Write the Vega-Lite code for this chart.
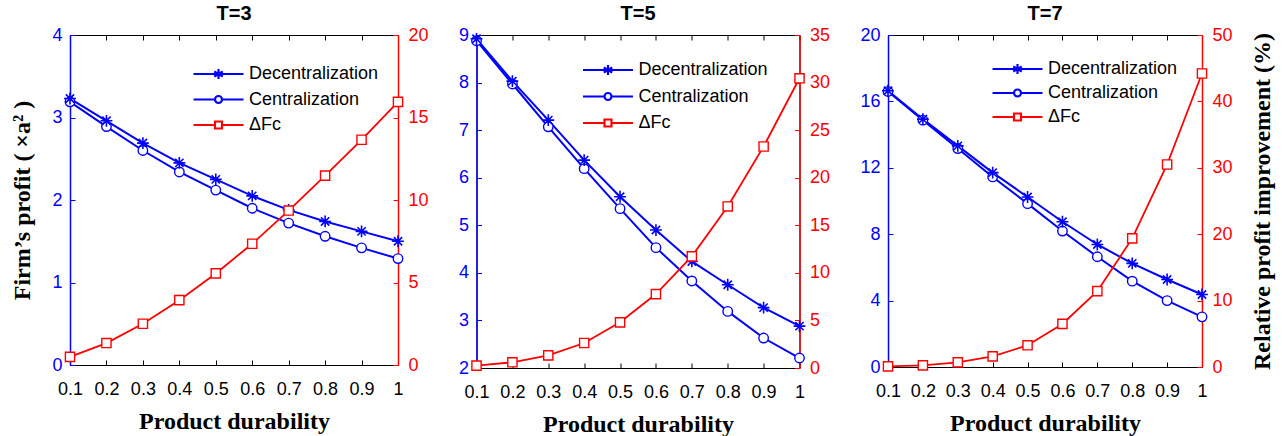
{
  "$schema": "https://vega.github.io/schema/vega-lite/v6.json",
  "padding": {"left": 10, "top": 3, "right": 2, "bottom": 0},
  "spacing": 28.5,
  "datasets": {
    "t3": [
      {"d": 0.1, "series": "Decentralization", "profit": 3.23}, {"d": 0.2, "series": "Decentralization", "profit": 2.96}, {"d": 0.3, "series": "Decentralization", "profit": 2.69}, {"d": 0.4, "series": "Decentralization", "profit": 2.45}, {"d": 0.5, "series": "Decentralization", "profit": 2.25}, {"d": 0.6, "series": "Decentralization", "profit": 2.05}, {"d": 0.7, "series": "Decentralization", "profit": 1.88}, {"d": 0.8, "series": "Decentralization", "profit": 1.74}, {"d": 0.9, "series": "Decentralization", "profit": 1.62}, {"d": 1.0, "series": "Decentralization", "profit": 1.50},
      {"d": 0.1, "series": "Centralization", "profit": 3.19}, {"d": 0.2, "series": "Centralization", "profit": 2.89}, {"d": 0.3, "series": "Centralization", "profit": 2.60}, {"d": 0.4, "series": "Centralization", "profit": 2.34}, {"d": 0.5, "series": "Centralization", "profit": 2.12}, {"d": 0.6, "series": "Centralization", "profit": 1.90}, {"d": 0.7, "series": "Centralization", "profit": 1.72}, {"d": 0.8, "series": "Centralization", "profit": 1.56}, {"d": 0.9, "series": "Centralization", "profit": 1.42}, {"d": 1.0, "series": "Centralization", "profit": 1.29},
      {"d": 0.1, "series": "ΔFc", "profit": 0.49}, {"d": 0.2, "series": "ΔFc", "profit": 1.33}, {"d": 0.3, "series": "ΔFc", "profit": 2.50}, {"d": 0.4, "series": "ΔFc", "profit": 3.93}, {"d": 0.5, "series": "ΔFc", "profit": 5.55}, {"d": 0.6, "series": "ΔFc", "profit": 7.35}, {"d": 0.7, "series": "ΔFc", "profit": 9.36}, {"d": 0.8, "series": "ΔFc", "profit": 11.48}, {"d": 0.9, "series": "ΔFc", "profit": 13.65}, {"d": 1.0, "series": "ΔFc", "profit": 15.95}
    ],
    "t5": [
      {"d": 0.1, "series": "Decentralization", "profit": 8.92}, {"d": 0.2, "series": "Decentralization", "profit": 8.03}, {"d": 0.3, "series": "Decentralization", "profit": 7.21}, {"d": 0.4, "series": "Decentralization", "profit": 6.37}, {"d": 0.5, "series": "Decentralization", "profit": 5.60}, {"d": 0.6, "series": "Decentralization", "profit": 4.90}, {"d": 0.7, "series": "Decentralization", "profit": 4.24}, {"d": 0.8, "series": "Decentralization", "profit": 3.75}, {"d": 0.9, "series": "Decentralization", "profit": 3.27}, {"d": 1.0, "series": "Decentralization", "profit": 2.88},
      {"d": 0.1, "series": "Centralization", "profit": 8.88}, {"d": 0.2, "series": "Centralization", "profit": 7.97}, {"d": 0.3, "series": "Centralization", "profit": 7.07}, {"d": 0.4, "series": "Centralization", "profit": 6.19}, {"d": 0.5, "series": "Centralization", "profit": 5.35}, {"d": 0.6, "series": "Centralization", "profit": 4.53}, {"d": 0.7, "series": "Centralization", "profit": 3.83}, {"d": 0.8, "series": "Centralization", "profit": 3.19}, {"d": 0.9, "series": "Centralization", "profit": 2.63}, {"d": 1.0, "series": "Centralization", "profit": 2.21},
      {"d": 0.1, "series": "ΔFc", "profit": 0.25}, {"d": 0.2, "series": "ΔFc", "profit": 0.60}, {"d": 0.3, "series": "ΔFc", "profit": 1.33}, {"d": 0.4, "series": "ΔFc", "profit": 2.63}, {"d": 0.5, "series": "ΔFc", "profit": 4.80}, {"d": 0.6, "series": "ΔFc", "profit": 7.77}, {"d": 0.7, "series": "ΔFc", "profit": 11.73}, {"d": 0.8, "series": "ΔFc", "profit": 16.98}, {"d": 0.9, "series": "ΔFc", "profit": 23.28}, {"d": 1.0, "series": "ΔFc", "profit": 30.45}
    ],
    "t7": [
      {"d": 0.1, "series": "Decentralization", "profit": 16.64}, {"d": 0.2, "series": "Decentralization", "profit": 14.93}, {"d": 0.3, "series": "Decentralization", "profit": 13.32}, {"d": 0.4, "series": "Decentralization", "profit": 11.71}, {"d": 0.5, "series": "Decentralization", "profit": 10.24}, {"d": 0.6, "series": "Decentralization", "profit": 8.75}, {"d": 0.7, "series": "Decentralization", "profit": 7.38}, {"d": 0.8, "series": "Decentralization", "profit": 6.24}, {"d": 0.9, "series": "Decentralization", "profit": 5.27}, {"d": 1.0, "series": "Decentralization", "profit": 4.37},
      {"d": 0.1, "series": "Centralization", "profit": 16.60}, {"d": 0.2, "series": "Centralization", "profit": 14.87}, {"d": 0.3, "series": "Centralization", "profit": 13.16}, {"d": 0.4, "series": "Centralization", "profit": 11.45}, {"d": 0.5, "series": "Centralization", "profit": 9.84}, {"d": 0.6, "series": "Centralization", "profit": 8.19}, {"d": 0.7, "series": "Centralization", "profit": 6.64}, {"d": 0.8, "series": "Centralization", "profit": 5.17}, {"d": 0.9, "series": "Centralization", "profit": 4.00}, {"d": 1.0, "series": "Centralization", "profit": 3.02},
      {"d": 0.1, "series": "ΔFc", "profit": 0.10}, {"d": 0.2, "series": "ΔFc", "profit": 0.25}, {"d": 0.3, "series": "ΔFc", "profit": 0.70}, {"d": 0.4, "series": "ΔFc", "profit": 1.60}, {"d": 0.5, "series": "ΔFc", "profit": 3.27}, {"d": 0.6, "series": "ΔFc", "profit": 6.49}, {"d": 0.7, "series": "ΔFc", "profit": 11.42}, {"d": 0.8, "series": "ΔFc", "profit": 19.37}, {"d": 0.9, "series": "ΔFc", "profit": 30.50}, {"d": 1.0, "series": "ΔFc", "profit": 44.20}
    ]
  },
  "hconcat": [
    {
      "width": 328, "height": 330,
      "title": {"text": "T=3"},
      "data": {"name": "t3"},
      "layer": [
        {"transform": [{"filter": "datum.series !== 'ΔFc'"}],
         "mark": {"type": "line", "strokeWidth": 2},
         "encoding": {
           "x": {"field": "d", "type": "quantitative", "scale": {"domain": [0.1, 1], "nice": false, "zero": false}, "axis": {"orient": "bottom", "values": [0.1, 0.2, 0.3, 0.4, 0.5, 0.6, 0.7, 0.8, 0.9, 1], "format": ".1~f", "title": "Product durability", "labelColor": "black", "domainColor": "black", "tickColor": "black", "labelPadding": 20, "titlePadding": 11, "labelFlush": false}},
           "y": {"field": "profit", "type": "quantitative", "scale": {"domain": [0, 4], "nice": false}, "axis": {"orient": "left", "values": [0, 1, 2, 3, 4], "title": "Firm’s profit ( ×a² )", "domainColor": "#0000ff", "domainWidth": 1.5, "tickColor": "#0000ff", "labelColor": "#0000ff", "titlePadding": 17}},
           "color": {"field": "series", "type": "nominal", "scale": {"domain": ["Decentralization", "Centralization", "ΔFc"], "range": ["#0000ff", "#0000ff", "#ff0000"]}}
         }},
        {"transform": [{"filter": "datum.series === 'Centralization'"}],
         "mark": {"type": "point", "shape": "circle", "size": 90, "filled": true, "fill": "white", "stroke": "#0000ff", "strokeWidth": 1.4, "opacity": 1},
         "encoding": {"x": {"field": "d", "type": "quantitative", "axis": null}, "y": {"field": "profit", "type": "quantitative", "scale": {"domain": [0, 4], "nice": false}, "axis": null}}},
        {"transform": [{"filter": "datum.series === 'Decentralization'"}],
         "mark": {"type": "point", "shape": "M0,-1V1M-1,0H1M-0.7,-0.7L0.7,0.7M-0.7,0.7L0.7,-0.7", "size": 140, "stroke": "#0000ff", "strokeWidth": 1.6, "opacity": 1},
         "encoding": {"x": {"field": "d", "type": "quantitative", "axis": null}, "y": {"field": "profit", "type": "quantitative", "scale": {"domain": [0, 4], "nice": false}, "axis": null}}},
        {"mark": {"type": "point", "opacity": 0, "clip": true},
         "encoding": {
           "x": {"field": "d", "type": "quantitative", "axis": null},
           "y": {"field": "profit", "type": "quantitative", "scale": {"domain": [0, 4], "nice": false}, "axis": null},
           "color": {"field": "series", "type": "nominal", "scale": {"domain": ["Decentralization", "Centralization", "ΔFc"], "range": ["#0000ff", "#0000ff", "#ff0000"]}, "legend": {"orient": "none", "legendX": 122, "legendY": 26.5, "title": null, "labelFont": "Liberation Sans", "labelFontSize": 18, "labelColor": "black", "symbolSize": 2500, "symbolStrokeWidth": 2.2, "symbolOpacity": 1, "padding": 0, "labelOffset": 4, "clipHeight": 25, "rowPadding": 0.5}},
           "shape": {"field": "series", "type": "nominal", "scale": {"domain": ["Decentralization", "Centralization", "ΔFc"], "range": ["M-1,0H1M0,-0.2V0.2M-0.17,-0.1L0.17,0.1M-0.17,0.1L0.17,-0.1", "M-1,0H-0.14M0.14,0H1M-0.14,0A0.14,0.14 0 1,1 0.14,0A0.14,0.14 0 1,1 -0.14,0Z", "M-1,0H-0.14M0.14,0H1M-0.14,-0.14H0.14V0.14H-0.14Z"]}, "legend": {"orient": "none", "legendX": 122, "legendY": 26.5, "title": null, "labelFont": "Liberation Sans", "labelFontSize": 18, "labelColor": "black", "symbolSize": 2500, "symbolStrokeWidth": 2.2, "symbolOpacity": 1, "padding": 0, "labelOffset": 4, "clipHeight": 25, "rowPadding": 0.5}}
         }},
        {"transform": [{"filter": "datum.series === 'ΔFc'"}],
         "mark": {"type": "line", "color": "#ff0000", "strokeWidth": 1.8},
         "encoding": {
           "x": {"field": "d", "type": "quantitative", "axis": {"orient": "top", "values": [0.1, 0.2, 0.3, 0.4, 0.5, 0.6, 0.7, 0.8, 0.9, 1], "labels": false, "domain": false, "title": null, "tickColor": "black"}},
           "y": {"field": "profit", "type": "quantitative", "scale": {"domain": [0, 20], "nice": false}, "axis": {"orient": "right", "values": [0, 5, 10, 15, 20], "title": null, "domainColor": "#ff0000", "domainWidth": 1.5, "tickColor": "#ff0000", "labelColor": "#ff0000", "labelPadding": 15}}
         }},
        {"transform": [{"filter": "datum.series === 'ΔFc'"}],
         "mark": {"type": "point", "shape": "square", "size": 85, "filled": true, "fill": "white", "stroke": "#ff0000", "strokeWidth": 1.4, "opacity": 1},
         "encoding": {"x": {"field": "d", "type": "quantitative", "axis": null}, "y": {"field": "profit", "type": "quantitative", "scale": {"domain": [0, 20], "nice": false}, "axis": null}}}
      ],
      "resolve": {"scale": {"y": "independent"}, "axis": {"x": "independent"}}
    },
    {
      "width": 323, "height": 333,
      "title": {"text": "T=5"},
      "data": {"name": "t5"},
      "layer": [
        {"transform": [{"filter": "datum.series !== 'ΔFc'"}],
         "mark": {"type": "line", "strokeWidth": 2},
         "encoding": {
           "x": {"field": "d", "type": "quantitative", "scale": {"domain": [0.1, 1], "nice": false, "zero": false}, "axis": {"orient": "bottom", "values": [0.1, 0.2, 0.3, 0.4, 0.5, 0.6, 0.7, 0.8, 0.9, 1], "format": ".1~f", "title": "Product durability", "labelColor": "black", "domainColor": "black", "tickColor": "black", "labelPadding": 20, "titlePadding": 11, "labelFlush": false}},
           "y": {"field": "profit", "type": "quantitative", "scale": {"domain": [2, 9], "nice": false, "zero": false}, "axis": {"orient": "left", "values": [2, 3, 4, 5, 6, 7, 8, 9], "title": null, "domainColor": "#0000ff", "domainWidth": 1.5, "tickColor": "#0000ff", "labelColor": "#0000ff"}},
           "color": {"field": "series", "type": "nominal", "scale": {"domain": ["Decentralization", "Centralization", "ΔFc"], "range": ["#0000ff", "#0000ff", "#ff0000"]}}
         }},
        {"transform": [{"filter": "datum.series === 'Centralization'"}],
         "mark": {"type": "point", "shape": "circle", "size": 90, "filled": true, "fill": "white", "stroke": "#0000ff", "strokeWidth": 1.4, "opacity": 1},
         "encoding": {"x": {"field": "d", "type": "quantitative", "axis": null}, "y": {"field": "profit", "type": "quantitative", "scale": {"domain": [2, 9], "nice": false, "zero": false}, "axis": null}}},
        {"transform": [{"filter": "datum.series === 'Decentralization'"}],
         "mark": {"type": "point", "shape": "M0,-1V1M-1,0H1M-0.7,-0.7L0.7,0.7M-0.7,0.7L0.7,-0.7", "size": 140, "stroke": "#0000ff", "strokeWidth": 1.6, "opacity": 1},
         "encoding": {"x": {"field": "d", "type": "quantitative", "axis": null}, "y": {"field": "profit", "type": "quantitative", "scale": {"domain": [2, 9], "nice": false, "zero": false}, "axis": null}}},
        {"mark": {"type": "point", "opacity": 0, "clip": true},
         "encoding": {
           "x": {"field": "d", "type": "quantitative", "axis": null},
           "y": {"field": "profit", "type": "quantitative", "scale": {"domain": [2, 9], "nice": false, "zero": false}, "axis": null},
           "color": {"field": "series", "type": "nominal", "scale": {"domain": ["Decentralization", "Centralization", "ΔFc"], "range": ["#0000ff", "#0000ff", "#ff0000"]}, "legend": {"orient": "none", "legendX": 105, "legendY": 22.5, "title": null, "labelFont": "Liberation Sans", "labelFontSize": 18, "labelColor": "black", "symbolSize": 2500, "symbolStrokeWidth": 2.2, "symbolOpacity": 1, "padding": 0, "labelOffset": 4, "clipHeight": 25, "rowPadding": 1.5}},
           "shape": {"field": "series", "type": "nominal", "scale": {"domain": ["Decentralization", "Centralization", "ΔFc"], "range": ["M-1,0H1M0,-0.2V0.2M-0.17,-0.1L0.17,0.1M-0.17,0.1L0.17,-0.1", "M-1,0H-0.14M0.14,0H1M-0.14,0A0.14,0.14 0 1,1 0.14,0A0.14,0.14 0 1,1 -0.14,0Z", "M-1,0H-0.14M0.14,0H1M-0.14,-0.14H0.14V0.14H-0.14Z"]}, "legend": {"orient": "none", "legendX": 105, "legendY": 22.5, "title": null, "labelFont": "Liberation Sans", "labelFontSize": 18, "labelColor": "black", "symbolSize": 2500, "symbolStrokeWidth": 2.2, "symbolOpacity": 1, "padding": 0, "labelOffset": 4, "clipHeight": 25, "rowPadding": 1.5}}
         }},
        {"transform": [{"filter": "datum.series === 'ΔFc'"}],
         "mark": {"type": "line", "color": "#ff0000", "strokeWidth": 1.8},
         "encoding": {
           "x": {"field": "d", "type": "quantitative", "axis": {"orient": "top", "values": [0.1, 0.2, 0.3, 0.4, 0.5, 0.6, 0.7, 0.8, 0.9, 1], "labels": false, "domain": false, "title": null, "tickColor": "black"}},
           "y": {"field": "profit", "type": "quantitative", "scale": {"domain": [0, 35], "nice": false}, "axis": {"orient": "right", "values": [0, 5, 10, 15, 20, 25, 30, 35], "title": null, "domainColor": "#ff0000", "domainWidth": 1.5, "tickColor": "#ff0000", "labelColor": "#ff0000", "labelPadding": 15}}
         }},
        {"transform": [{"filter": "datum.series === 'ΔFc'"}],
         "mark": {"type": "point", "shape": "square", "size": 85, "filled": true, "fill": "white", "stroke": "#ff0000", "strokeWidth": 1.4, "opacity": 1},
         "encoding": {"x": {"field": "d", "type": "quantitative", "axis": null}, "y": {"field": "profit", "type": "quantitative", "scale": {"domain": [0, 35], "nice": false}, "axis": null}}}
      ],
      "resolve": {"scale": {"y": "independent"}, "axis": {"x": "independent"}}
    },
    {
      "width": 314, "height": 332,
      "title": {"text": "T=7"},
      "data": {"name": "t7"},
      "layer": [
        {"transform": [{"filter": "datum.series !== 'ΔFc'"}],
         "mark": {"type": "line", "strokeWidth": 2},
         "encoding": {
           "x": {"field": "d", "type": "quantitative", "scale": {"domain": [0.1, 1], "nice": false, "zero": false}, "axis": {"orient": "bottom", "values": [0.1, 0.2, 0.3, 0.4, 0.5, 0.6, 0.7, 0.8, 0.9, 1], "format": ".1~f", "title": "Product durability", "labelColor": "black", "domainColor": "black", "tickColor": "black", "labelPadding": 20, "titlePadding": 11, "labelFlush": false}},
           "y": {"field": "profit", "type": "quantitative", "scale": {"domain": [0, 20], "nice": false}, "axis": {"orient": "left", "values": [0, 4, 8, 12, 16, 20], "title": null, "domainColor": "#0000ff", "domainWidth": 1.5, "tickColor": "#0000ff", "labelColor": "#0000ff"}},
           "color": {"field": "series", "type": "nominal", "scale": {"domain": ["Decentralization", "Centralization", "ΔFc"], "range": ["#0000ff", "#0000ff", "#ff0000"]}}
         }},
        {"transform": [{"filter": "datum.series === 'Centralization'"}],
         "mark": {"type": "point", "shape": "circle", "size": 90, "filled": true, "fill": "white", "stroke": "#0000ff", "strokeWidth": 1.4, "opacity": 1},
         "encoding": {"x": {"field": "d", "type": "quantitative", "axis": null}, "y": {"field": "profit", "type": "quantitative", "scale": {"domain": [0, 20], "nice": false}, "axis": null}}},
        {"transform": [{"filter": "datum.series === 'Decentralization'"}],
         "mark": {"type": "point", "shape": "M0,-1V1M-1,0H1M-0.7,-0.7L0.7,0.7M-0.7,0.7L0.7,-0.7", "size": 140, "stroke": "#0000ff", "strokeWidth": 1.6, "opacity": 1},
         "encoding": {"x": {"field": "d", "type": "quantitative", "axis": null}, "y": {"field": "profit", "type": "quantitative", "scale": {"domain": [0, 20], "nice": false}, "axis": null}}},
        {"mark": {"type": "point", "opacity": 0, "clip": true},
         "encoding": {
           "x": {"field": "d", "type": "quantitative", "axis": null},
           "y": {"field": "profit", "type": "quantitative", "scale": {"domain": [0, 20], "nice": false}, "axis": null},
           "color": {"field": "series", "type": "nominal", "scale": {"domain": ["Decentralization", "Centralization", "ΔFc"], "range": ["#0000ff", "#0000ff", "#ff0000"]}, "legend": {"orient": "none", "legendX": 103, "legendY": 22, "title": null, "labelFont": "Liberation Sans", "labelFontSize": 18, "labelColor": "black", "symbolSize": 2500, "symbolStrokeWidth": 2.2, "symbolOpacity": 1, "padding": 0, "labelOffset": 4, "clipHeight": 24, "rowPadding": 0}},
           "shape": {"field": "series", "type": "nominal", "scale": {"domain": ["Decentralization", "Centralization", "ΔFc"], "range": ["M-1,0H1M0,-0.2V0.2M-0.17,-0.1L0.17,0.1M-0.17,0.1L0.17,-0.1", "M-1,0H-0.14M0.14,0H1M-0.14,0A0.14,0.14 0 1,1 0.14,0A0.14,0.14 0 1,1 -0.14,0Z", "M-1,0H-0.14M0.14,0H1M-0.14,-0.14H0.14V0.14H-0.14Z"]}, "legend": {"orient": "none", "legendX": 103, "legendY": 22, "title": null, "labelFont": "Liberation Sans", "labelFontSize": 18, "labelColor": "black", "symbolSize": 2500, "symbolStrokeWidth": 2.2, "symbolOpacity": 1, "padding": 0, "labelOffset": 4, "clipHeight": 24, "rowPadding": 0}}
         }},
        {"transform": [{"filter": "datum.series === 'ΔFc'"}],
         "mark": {"type": "line", "color": "#ff0000", "strokeWidth": 1.8},
         "encoding": {
           "x": {"field": "d", "type": "quantitative", "axis": {"orient": "top", "values": [0.1, 0.2, 0.3, 0.4, 0.5, 0.6, 0.7, 0.8, 0.9, 1], "labels": false, "domain": false, "title": null, "tickColor": "black"}},
           "y": {"field": "profit", "type": "quantitative", "scale": {"domain": [0, 50], "nice": false}, "axis": {"orient": "right", "values": [0, 10, 20, 30, 40, 50], "title": "Relative profit improvement (%)", "titleAngle": 270, "titleBaseline": "top", "titlePadding": 18, "domainColor": "#ff0000", "domainWidth": 1.5, "tickColor": "#ff0000", "labelColor": "#ff0000", "labelPadding": 15}}
         }},
        {"transform": [{"filter": "datum.series === 'ΔFc'"}],
         "mark": {"type": "point", "shape": "square", "size": 85, "filled": true, "fill": "white", "stroke": "#ff0000", "strokeWidth": 1.4, "opacity": 1},
         "encoding": {"x": {"field": "d", "type": "quantitative", "axis": null}, "y": {"field": "profit", "type": "quantitative", "scale": {"domain": [0, 50], "nice": false}, "axis": null}}}
      ],
      "resolve": {"scale": {"y": "independent"}, "axis": {"x": "independent"}}
    }
  ],
  "resolve": {"scale": {"y": "independent", "color": "independent", "shape": "independent"}, "legend": {"color": "independent", "shape": "independent"}},
  "config": {
    "view": {"stroke": "black", "strokeWidth": 1},
    "axis": {"grid": false, "labelFont": "Liberation Sans", "labelFontSize": 18, "titleFont": "Liberation Serif", "titleFontSize": 24, "titleFontWeight": "bold", "titleColor": "black", "tickSize": -5, "labelPadding": 13},
    "title": {"font": "Liberation Sans", "fontSize": 20, "fontWeight": "bold", "offset": 2, "color": "black"}
  }
}
